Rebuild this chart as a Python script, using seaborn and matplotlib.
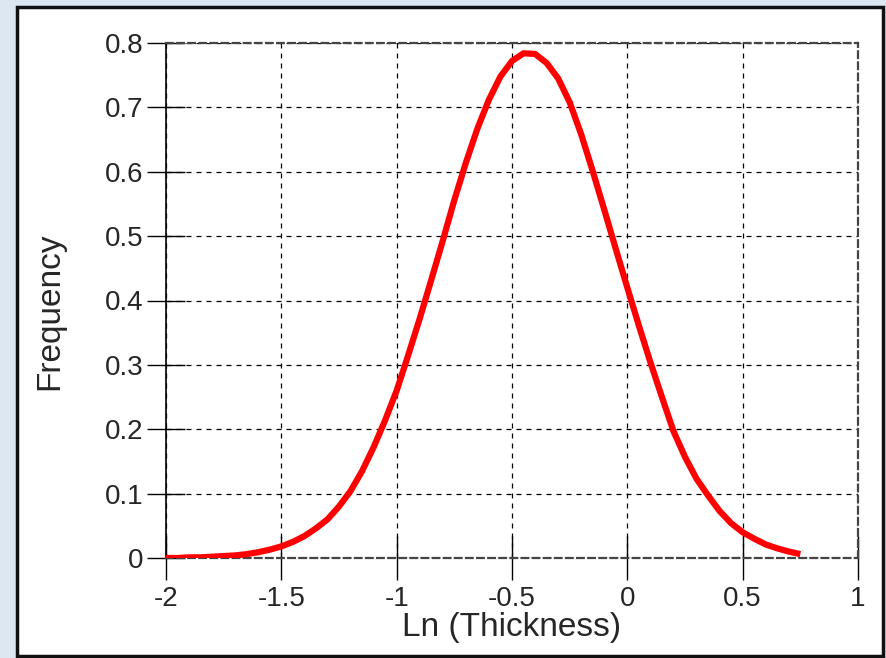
import numpy as np
import pandas as pd
import seaborn as sns
import matplotlib.pyplot as plt
from matplotlib.patches import Rectangle
from matplotlib.ticker import MultipleLocator

sns.set_style('white')
plt.rcParams['font.family'] = ['Liberation Sans', 'DejaVu Sans']

# curve
ln_thickness = [-2.00, -1.95, -1.90, -1.85, -1.80, -1.75, -1.70, -1.65, -1.60, -1.55,
                -1.50, -1.45, -1.40, -1.35, -1.30, -1.25, -1.20, -1.15, -1.10, -1.05,
                -1.00, -0.95, -0.90, -0.85, -0.80, -0.75, -0.70, -0.65, -0.60, -0.55,
                -0.50, -0.45, -0.40, -0.35, -0.30, -0.25, -0.20, -0.15, -0.10, -0.05,
                0.00, 0.05, 0.10, 0.15, 0.20, 0.25, 0.30, 0.35, 0.40, 0.45,
                0.50, 0.55, 0.60, 0.65, 0.70, 0.75]
frequency = [0.000, 0.000, 0.001, 0.001, 0.002, 0.003, 0.004, 0.006, 0.009, 0.013,
             0.018, 0.025, 0.034, 0.046, 0.060, 0.080, 0.104, 0.135, 0.172, 0.214,
             0.260, 0.315, 0.372, 0.432, 0.493, 0.556, 0.614, 0.667, 0.712, 0.748,
             0.772, 0.784, 0.783, 0.769, 0.745, 0.708, 0.658, 0.601, 0.541, 0.480,
             0.420, 0.361, 0.304, 0.250, 0.197, 0.157, 0.123, 0.097, 0.073, 0.054,
             0.040, 0.030, 0.021, 0.015, 0.010, 0.006]

x_ticks = [-2, -1.5, -1, -0.5, 0, 0.5, 1]
x_labels = ['-2', '-1.5', '-1', '-0.5', '0', '0.5', '1']
y_ticks = [0, 0.1, 0.2, 0.3, 0.4, 0.5, 0.6, 0.7, 0.8]
y_labels = ['0', '0.1', '0.2', '0.3', '0.4', '0.5', '0.6', '0.7', '0.8']

df = pd.DataFrame({'x': ln_thickness, 'y': frequency})

fig = plt.figure(figsize=(8.87, 6.58), dpi=100)
fig.patch.set_facecolor('#dde7f2')
W, H = 887, 658
fig.add_artist(Rectangle((17 / W, 2 / H), 866 / W, 649 / H, transform=fig.transFigure,
                         facecolor='white', edgecolor='#111111', lw=2.5, zorder=0))

ax = fig.add_axes([166 / W, 1 - 558 / H, 692 / W, 515 / H])
ax.set_facecolor('white')

sns.lineplot(data=df, x='x', y='y', ax=ax, color='#ff0000', lw=4.5,
             solid_capstyle='butt', zorder=5)

ax.set_xlim(-2, 1)
ax.set_ylim(0, 0.8)
ax.set_xticks(x_ticks)
ax.set_xticklabels(x_labels)
ax.set_yticks(y_ticks)
ax.set_yticklabels(y_labels)
ax.xaxis.set_minor_locator(MultipleLocator(0.1))
ax.yaxis.set_minor_locator(MultipleLocator(0.02))

ax.grid(True, which='major', color='black', linestyle=(0, (4, 4)), lw=0.9)
ax.tick_params(axis='x', which='major', direction='inout', length=32, width=1,
               color='black', labelsize=20, pad=4)
ax.tick_params(axis='y', which='major', direction='inout', length=28, width=1,
               color='black', labelsize=20, pad=2)
ax.tick_params(which='minor', direction='in', length=9, width=1, color='black')
ax.tick_params(axis='both', bottom=True, left=True, top=False, right=False)

ax.spines['left'].set_color('black')
ax.spines['left'].set_linewidth(1.2)
for s in ['top', 'right', 'bottom']:
    ax.spines[s].set_color('#444444')
    ax.spines[s].set_linewidth(1.6)
    ax.spines[s].set_linestyle((0, (3, 2)))

ax.set_xlabel('Ln (Thickness)', fontsize=24, labelpad=0)
ax.set_ylabel('Frequency', fontsize=24)
ax.yaxis.set_label_coords(-0.145, 0.48)

fig.savefig('out.png', dpi=100, facecolor=fig.get_facecolor())
